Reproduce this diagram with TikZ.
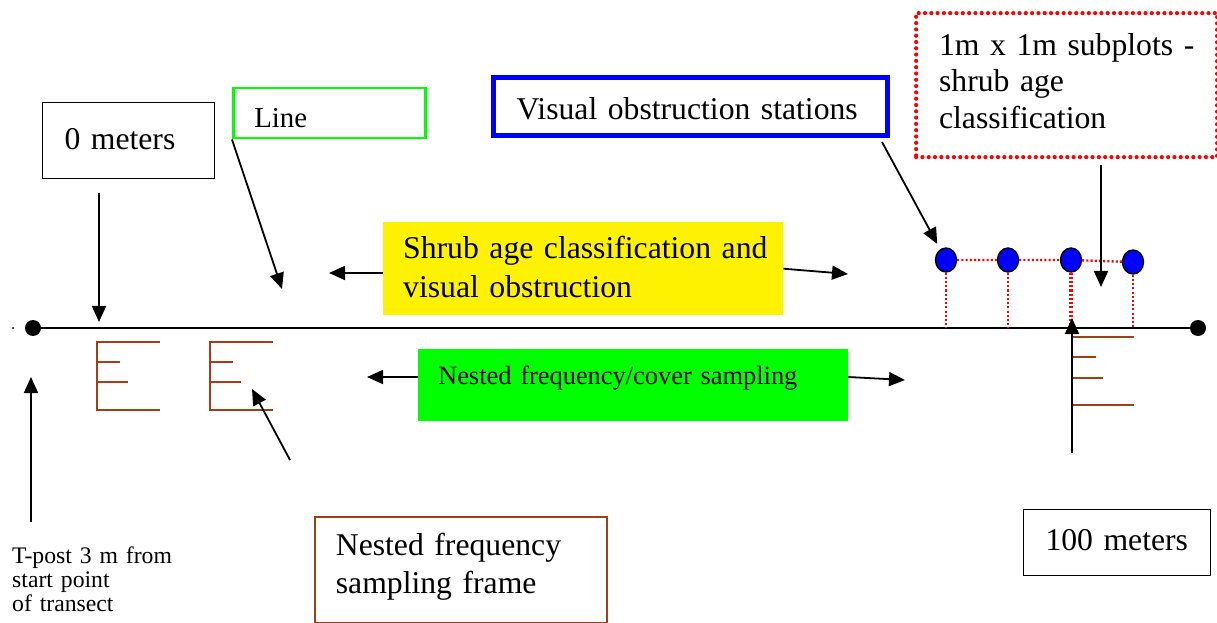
\documentclass[tikz,border=0pt]{standalone}
\usepackage{fontspec}
\setmainfont{Liberation Serif}
\usetikzlibrary{arrows.meta, shapes.geometric}
\definecolor{framebrown}{RGB}{165,62,20}
\definecolor{fullgreen}{RGB}{0,255,0}

\begin{document}
\begin{tikzpicture}[x=1bp, y=-1bp]
\useasboundingbox (0,0) rectangle (1217,623);

\tikzset{textbox/.style = {anchor=north west, inner ysep=0pt, align=left, font=\fontsize{31.8}{36}\selectfont}}
\tikzset{pointer/.style = {line width=1.8bp, -{Triangle[length=16bp,width=14bp]}}}
\tikzset{dot/.style = {shape=circle, fill, inner sep=0pt, minimum size=16bp}}
\tikzset{station/.style = {shape=ellipse, draw=black, line width=1.4bp, fill=blue, minimum width=21bp, minimum height=24bp, inner sep=0pt}}
\tikzset{eframe/.style = {draw=framebrown, line width=1.8bp}}
\tikzset{subline/.style = {draw=red, line width=2.4bp, dash pattern=on 2bp off 2.2bp}}

% boxes
\node[textbox, draw=black, line width=1bp, inner xsep=22bp, text width=128bp,
  text height=47bp, text depth=29bp] (zero) at (42,102) {\mbox{0 meters}};
\node[textbox, draw=fullgreen, line width=2.5bp, inner xsep=21bp, text width=150bp,
  text height=39bp, text depth=11bp, font=\fontsize{29}{33}\selectfont] (linebox) at (232,87) {Line};
\node[textbox, draw=blue, line width=5bp, inner xsep=23bp, text width=348bp,
  text height=42bp, text depth=16bp] (vis) at (491,75) {\mbox{Visual obstruction stations}};
\node[textbox, draw=red, line width=4.2bp, line cap=round, dash pattern=on 0pt off 6.3bp,
  inner xsep=23bp, text width=255bp, text height=42bp, text depth=102bp,
  font=\fontsize{31.8}{36.7}\selectfont] (sub) at (914,11)
  {\mbox{1m x 1m subplots -}\\\mbox{shrub age}\\\mbox{classification}};
\node[textbox, fill=yellow, inner xsep=20bp, text width=360bp, text height=36bp, text depth=57bp,
  font=\fontsize{31.8}{39}\selectfont] (sa) at (383,222)
  {\mbox{Shrub age classification and}\\\mbox{visual obstruction}};
\node[textbox, fill=fullgreen, inner xsep=20bp, text width=390bp, text height=35bp, text depth=37bp,
  font=\fontsize{26.5}{30}\selectfont] (nf) at (418,349) {\mbox{Nested frequency/cover sampling}};
\node[textbox, draw=framebrown, line width=1.8bp, inner xsep=21bp, text width=250bp,
  text height=39bp, text depth=67bp, font=\fontsize{31.8}{38}\selectfont] (nfs) at (314,516)
  {\mbox{Nested frequency}\\\mbox{sampling frame}};
\node[textbox, draw=black, line width=1bp, inner xsep=22bp, text width=143bp,
  text height=41bp, text depth=25bp] (hundred) at (1023,509) {\mbox{100 meters}};
\node[anchor=base west, inner sep=0pt, text width=200bp, align=left,
  font=\fontsize{23.8}{24.5}\selectfont] (tpost) at (12,563)
  {\mbox{T-post 3 m from}\\\mbox{start point}\\\mbox{of transect}};

% transect
\node[dot] (start) at (33,328) {};
\node[dot] (stop) at (1198,328) {};
\node[shape=circle, fill, inner sep=0pt, minimum size=2bp] (speck) at (13,328) {};
\draw[line width=1.8bp] (start) -- (stop);

% stations
\node[station] (s1) at (946,260) {};
\node[station] (s2) at (1008,260) {};
\node[station] (s3) at (1071,260) {};
\node[station] (s4) at (1133,262) {};
\draw[subline] (s1) -- (s2) (s2) -- (s3) (s3) -- (s4);
\foreach \s in {s1,s2,s4} \draw[subline] (\s.south) -- (\s |- start);
\draw[subline, line width=3.2bp] (s3.south) -- (s3 |- start);

% frames
\foreach \x in {97,210} {
  \draw[eframe] (\x+63,342) -- (\x,342) -- (\x,410) -- (\x+63,410);
  \draw[eframe] (\x,362) -- (\x+23,362) (\x,382) -- (\x+31,382);
}
\draw[eframe] (1072,337) -- (1134,337) (1072,357) -- (1096,357)
  (1072,378) -- (1103,378) (1072,405) -- (1134,405);

% arrows
\coordinate (zA) at (99,193);
\coordinate (zB) at (99,322);
\coordinate (lnB) at (282,289);
\coordinate (saL) at (329,273);
\coordinate (saR) at (848,274);
\coordinate (nfL) at (367,377);
\coordinate (nfR) at (905,380);
\coordinate (visA) at (882,142);
\coordinate (subA) at (1101,165);
\coordinate (subB) at (1101,287);
\coordinate (postA) at (1072,453);
\coordinate (postB) at (1072,318);
\coordinate (frA) at (290,460);
\coordinate (frB) at (252,389);
\coordinate (tpA) at (31,522);
\coordinate (tpB) at (31,377);
\draw[pointer] (zA) -- (zB);
\draw[pointer] (linebox.south west) -- (lnB);
\draw[pointer] (sa.west |- saL) -- (saL);
\draw[pointer] (sa.east) -- (saR);
\draw[pointer] (nf.west |- nfL) -- (nfL);
\draw[pointer] (nf.east |- nfL) -- (nfR);
\draw[pointer, shorten >=6bp] (visA) -- (s1);
\draw[pointer] (subA) -- (subB);
\draw[pointer] (postA) -- (postB);
\draw[pointer] (frA) -- (frB);
\draw[pointer] (tpA) -- (tpB);
\end{tikzpicture}
\end{document}
